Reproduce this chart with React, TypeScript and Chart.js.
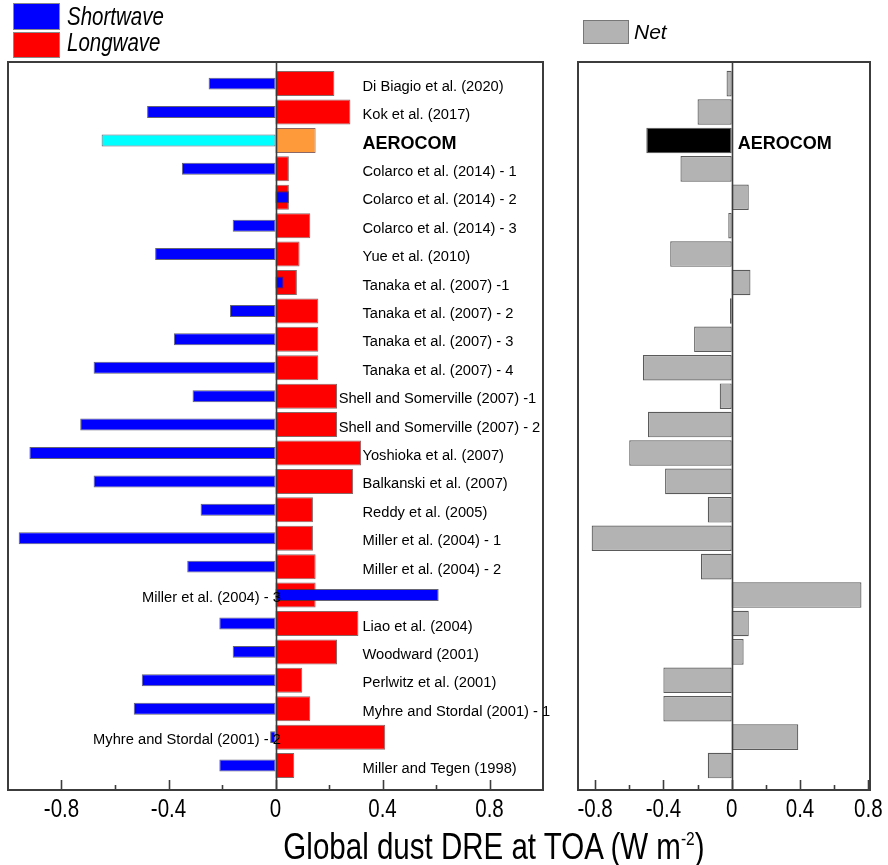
import React, { useEffect, useRef } from "react";
import { Chart, registerables } from "chart.js";
Chart.register(...registerables);

// ---------- data ----------
const studies = [
  "Di Biagio et al. (2020)",
  "Kok et al. (2017)",
  "AEROCOM",
  "Colarco et al. (2014) - 1",
  "Colarco et al. (2014) - 2",
  "Colarco et al. (2014) - 3",
  "Yue et al. (2010)",
  "Tanaka et al. (2007) -1",
  "Tanaka et al. (2007) - 2",
  "Tanaka et al. (2007) - 3",
  "Tanaka et al. (2007) - 4",
  "Shell and Somerville (2007) -1",
  "Shell and Somerville (2007) - 2",
  "Yoshioka et al. (2007)",
  "Balkanski et al. (2007)",
  "Reddy et al. (2005)",
  "Miller et al. (2004) - 1",
  "Miller et al. (2004) - 2",
  "Miller et al. (2004) - 3",
  "Liao et al. (2004)",
  "Woodward (2001)",
  "Perlwitz et al. (2001)",
  "Myhre and Stordal (2001) - 1",
  "Myhre and Stordal (2001) - 2",
  "Miller and Tegen (1998)",
];

const shortwave = [
  -0.25, -0.48, -0.65, -0.35, 0.05, -0.16, -0.45, 0.03, -0.17, -0.38, -0.68, -0.31, -0.73,
  -0.92, -0.68, -0.28, -0.96, -0.33, 0.61, -0.21, -0.16, -0.5, -0.53, -0.02, -0.21,
];
const longwave = [
  0.22, 0.28, 0.15, 0.05, 0.05, 0.13, 0.09, 0.08, 0.16, 0.16, 0.16, 0.23, 0.23,
  0.32, 0.29, 0.14, 0.14, 0.15, 0.15, 0.31, 0.23, 0.1, 0.13, 0.41, 0.07,
];
const net = [
  -0.03, -0.2, -0.5, -0.3, 0.1, -0.02, -0.36, 0.11, -0.01, -0.22, -0.52, -0.07, -0.49,
  -0.6, -0.39, -0.14, -0.82, -0.18, 0.76, 0.1, 0.07, -0.4, -0.4, 0.39, -0.14,
];

const majorTicks = [-0.8, -0.4, 0, 0.4, 0.8];
const minorTicks = [-0.6, -0.2, 0.2, 0.6];
const tickLabels = ["-0.8", "-0.4", "0", "0.4", "0.8"];
const highlightName = "AEROCOM";

// ---------- styles ----------
const FONT = '"Liberation Sans", Arial, Helvetica, sans-serif';
const FRAME = "#3c3c3c";
const highlightIndex = studies.indexOf(highlightName);

function narrowText(
  ctx: CanvasRenderingContext2D,
  text: string,
  x: number,
  y: number,
  size: number,
  align: CanvasTextAlign,
  style = "",
  sx = 0.82
) {
  ctx.save();
  ctx.font = `${style} ${size}px ${FONT}`;
  ctx.textBaseline = "alphabetic";
  ctx.textAlign = align;
  ctx.fillStyle = "#000";
  ctx.translate(x, y);
  ctx.scale(sx, 1);
  ctx.fillText(text, 0, 0);
  ctx.restore();
}

function drawFrame(chart: any) {
  const { ctx, chartArea: a, scales } = chart;
  const x = scales.x;
  ctx.save();
  // zero line
  const x0 = Math.round(x.getPixelForValue(0)) + 0.5;
  ctx.strokeStyle = FRAME;
  ctx.lineWidth = 1.6;
  ctx.beginPath();
  ctx.moveTo(x0, a.top);
  ctx.lineTo(x0, a.bottom);
  ctx.stroke();
  // frame
  ctx.lineWidth = 2;
  ctx.strokeRect(a.left, a.top, a.right - a.left, a.bottom - a.top);
  // ticks (inward)
  ctx.lineWidth = 1.6;
  majorTicks.forEach((v) => {
    const px = Math.round(x.getPixelForValue(v)) + 0.5;
    ctx.beginPath();
    ctx.moveTo(px, a.bottom);
    ctx.lineTo(px, a.bottom - 10);
    ctx.stroke();
  });
  minorTicks.forEach((v) => {
    const px = Math.round(x.getPixelForValue(v)) + 0.5;
    ctx.beginPath();
    ctx.moveTo(px, a.bottom);
    ctx.lineTo(px, a.bottom - 5);
    ctx.stroke();
  });
  ctx.restore();
  majorTicks.forEach((v, i) => {
    narrowText(ctx, tickLabels[i], x.getPixelForValue(v), a.bottom + 27, 25, "center");
  });
}

const yScaleOpts = {
  type: "linear" as const,
  reverse: true,
  offset: false,
  min: -0.76,
  max: 24.86,
  display: false,
  afterBuildTicks: (scale: any) => {
    scale.ticks = studies.map((_, i) => ({ value: i }));
  },
};

const leftPlugin = {
  id: "leftDecor",
  afterDatasetsDraw(chart: any) {
    const { ctx, scales } = chart;
    const x = scales.x;
    const y = scales.y;
    drawFrame(chart);
    // category labels
    studies.forEach((name, i) => {
      const py = y.getPixelForValue(i) + 3;
      ctx.save();
      ctx.fillStyle = "#000";
      ctx.textBaseline = "middle";
      if (i === highlightIndex) {
        ctx.font = `bold 18px ${FONT}`;
        ctx.textAlign = "left";
        ctx.fillText(name, x.getPixelForValue(0.325), py + 1);
      } else if (shortwave[i] > 0.3 || longwave[i] > 0.38) {
        ctx.font = `14.7px ${FONT}`;
        ctx.textAlign = "right";
        ctx.fillText(name, x.getPixelForValue(0.02), py);
      } else if (name.startsWith("Shell")) {
        ctx.font = `14.7px ${FONT}`;
        ctx.textAlign = "left";
        ctx.fillText(name, x.getPixelForValue(0.236), py);
      } else {
        ctx.font = `14.7px ${FONT}`;
        ctx.textAlign = "left";
        ctx.fillText(name, x.getPixelForValue(0.325), py);
      }
      ctx.restore();
    });
    // legend
    ctx.save();
    ctx.lineWidth = 1;
    ctx.strokeStyle = "#8a8a8a";
    ctx.fillStyle = "#0000FF";
    ctx.fillRect(13, 3, 47, 27);
    ctx.strokeRect(13.5, 3.5, 46, 26);
    ctx.fillStyle = "#FF0000";
    ctx.fillRect(13, 32, 47, 26);
    ctx.strokeRect(13.5, 32.5, 46, 25);
    ctx.restore();
    narrowText(ctx, "Shortwave", 67, 25, 25, "left", "italic");
    narrowText(ctx, "Longwave", 67, 51, 25, "left", "italic");
  },
};

const rightPlugin = {
  id: "rightDecor",
  afterDatasetsDraw(chart: any) {
    const { ctx, scales } = chart;
    const x = scales.x;
    const y = scales.y;
    drawFrame(chart);
    ctx.save();
    ctx.fillStyle = "#000";
    ctx.textBaseline = "middle";
    ctx.font = `bold 18px ${FONT}`;
    ctx.textAlign = "left";
    ctx.fillText(highlightName, x.getPixelForValue(0.035), y.getPixelForValue(highlightIndex) + 4);
    // legend
    ctx.lineWidth = 1;
    ctx.strokeStyle = "#777";
    ctx.fillStyle = "#B3B3B3";
    ctx.fillRect(23, 20, 46, 24);
    ctx.strokeRect(23.5, 20.5, 45, 23);
    ctx.restore();
    narrowText(ctx, "Net", 74, 39, 21, "left", "italic", 1);
  },
};

export default function App() {
  const leftRef = useRef<HTMLCanvasElement>(null);
  const rightRef = useRef<HTMLCanvasElement>(null);

  useEffect(() => {
    const idx = studies.map((_, i) => i);
    const left = new Chart(leftRef.current!, {
      type: "bar",
      data: {
        datasets: [
          {
            label: "Shortwave",
            data: idx.map((i) => ({ x: shortwave[i], y: i })),
            backgroundColor: idx.map((i) => (i === highlightIndex ? "#00FFFF" : "#0000FF")),
            borderColor: "rgba(50,50,70,0.75)",
            borderWidth: 1,
            borderSkipped: false,
            barPercentage: 0.42,
            categoryPercentage: 1,
            grouped: false,
          },
          {
            label: "Longwave",
            data: idx.map((i) => ({ x: longwave[i], y: i })),
            backgroundColor: idx.map((i) => (i === highlightIndex ? "#FF9A3A" : "#FF0000")),
            borderColor: "rgba(90,40,40,0.7)",
            borderWidth: 1,
            borderSkipped: false,
            barPercentage: 0.88,
            categoryPercentage: 1,
            grouped: false,
          },
        ],
      },
      options: {
        indexAxis: "y",
        animation: false,
        responsive: false,
        devicePixelRatio: 1,
        layout: { padding: { left: 8, right: 17, top: 62, bottom: 75 } },
        scales: {
          x: { type: "linear", min: -1, max: 1, display: false },
          y: yScaleOpts as any,
        },
        plugins: { legend: { display: false }, tooltip: { enabled: false } },
      },
      plugins: [leftPlugin],
    } as any);

    const right = new Chart(rightRef.current!, {
      type: "bar",
      data: {
        datasets: [
          {
            label: "Net",
            data: idx.map((i) => ({ x: net[i], y: i })),
            backgroundColor: idx.map((i) => (i === highlightIndex ? "#000000" : "#B3B3B3")),
            borderColor: "#5a5a5a",
            borderWidth: 1.2,
            borderSkipped: false,
            barPercentage: 0.9,
            categoryPercentage: 1,
            grouped: false,
          },
        ],
      },
      options: {
        indexAxis: "y",
        animation: false,
        responsive: false,
        devicePixelRatio: 1,
        layout: { padding: { left: 18, right: 18, top: 62, bottom: 75 } },
        scales: {
          x: { type: "linear", min: -0.9, max: 0.81, display: false },
          y: yScaleOpts as any,
        },
        plugins: { legend: { display: false }, tooltip: { enabled: false } },
      },
      plugins: [rightPlugin],
    } as any);

    return () => {
      left.destroy();
      right.destroy();
    };
  }, []);

  return (
    <div
      style={{
        position: "absolute",
        left: 0,
        top: 0,
        width: 888,
        height: 865,
        background: "#fff",
        overflow: "hidden",
      }}
    >
      <canvas
        ref={leftRef}
        width={560}
        height={865}
        style={{ position: "absolute", left: 0, top: 0, width: 560, height: 865 }}
      />
      <canvas
        ref={rightRef}
        width={328}
        height={865}
        style={{ position: "absolute", left: 560, top: 0, width: 328, height: 865 }}
      />
      <div
        style={{
          position: "absolute",
          left: 494,
          top: 829,
          fontFamily: FONT,
          fontSize: 36,
          lineHeight: "35px",
          whiteSpace: "nowrap",
          color: "#000",
          transform: "translateX(-50%) scaleX(0.82)",
        }}
      >
        Global dust DRE at TOA (W m
        <span style={{ fontSize: 19, position: "relative", top: -14 }}>-2</span>)
      </div>
    </div>
  );
}
